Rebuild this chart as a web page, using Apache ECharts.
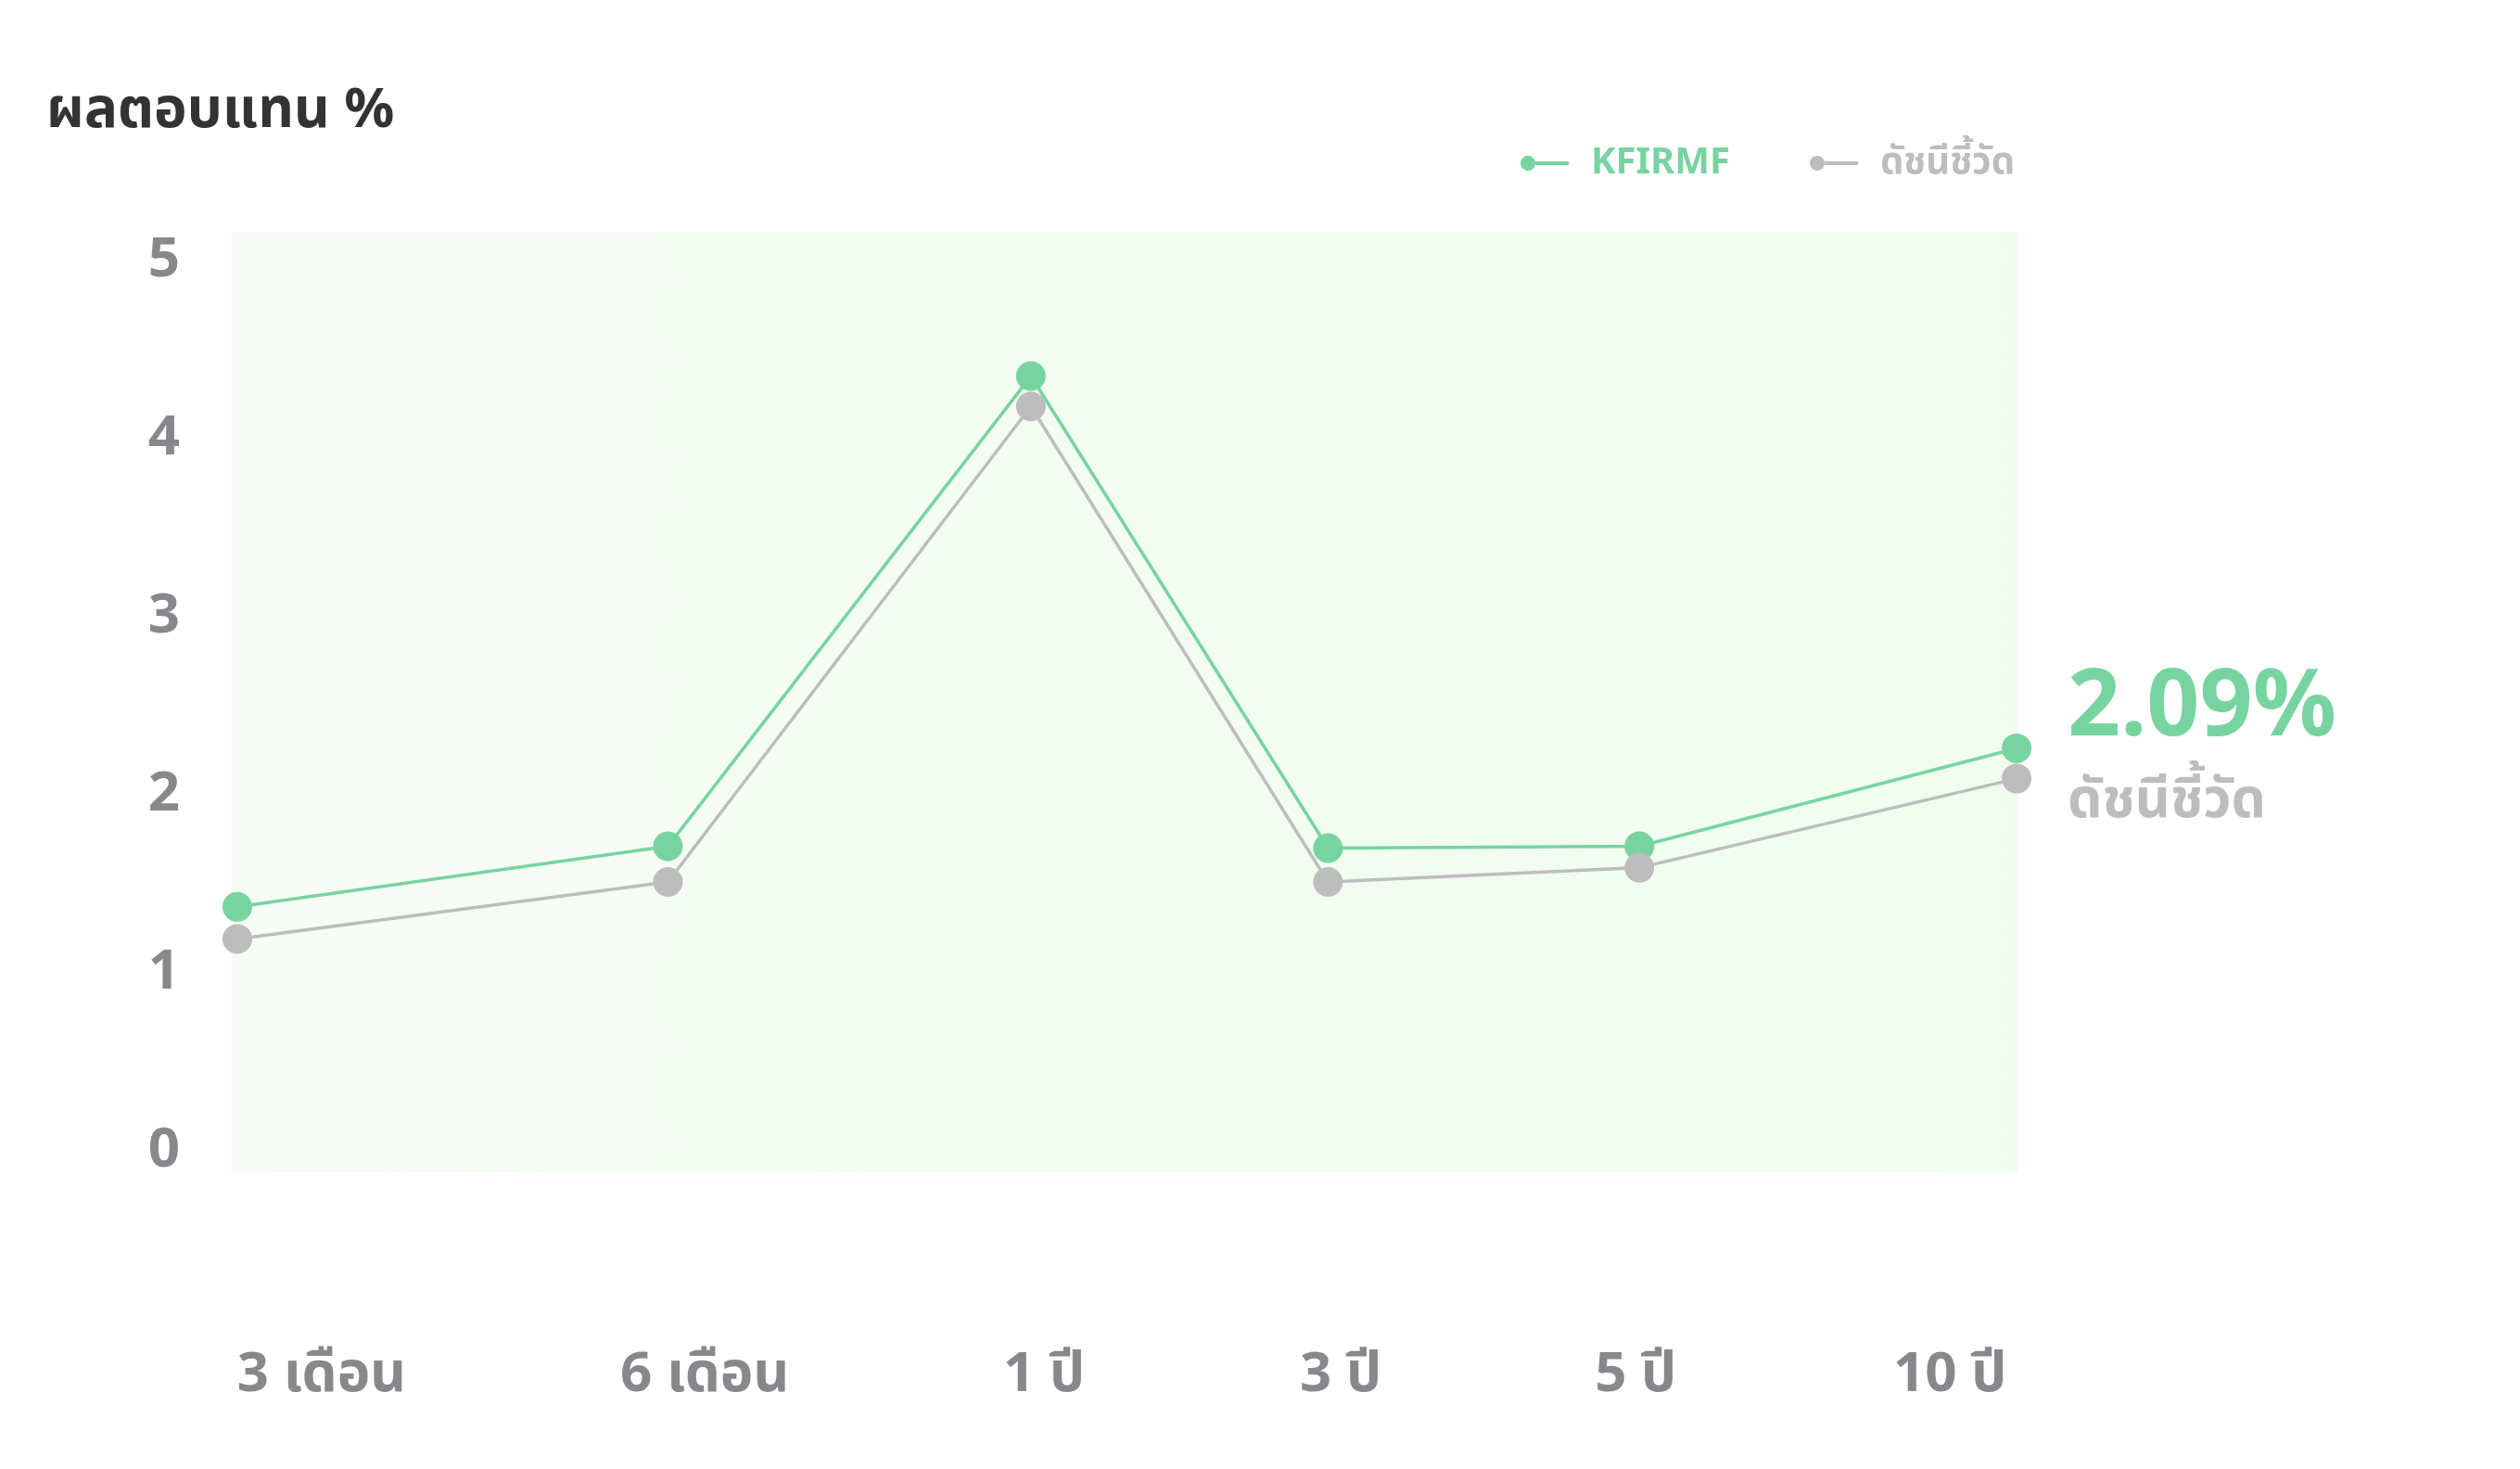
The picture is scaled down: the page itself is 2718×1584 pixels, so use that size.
<!DOCTYPE html>
<html>
<head>
<meta charset="utf-8">
<script src="https://cdn.jsdelivr.net/npm/echarts@6/dist/echarts.min.js"></script>
<style>
html,body{margin:0;padding:0;background:#ffffff;}
#chart{width:2718px;height:1584px;}
</style>
</head>
<body>
<div id="chart"></div>
<script>
// ---- data ----
const periods = ['3 เดือน', '6 เดือน', '1 ปี', '3 ปี', '5 ปี', '10 ปี'];
const periodPos = [0, 24.2, 44.6, 61.3, 78.8, 100];          // where each period's point sits on the axis
const periodLabelPos = [4.74, 26.27, 45.34, 62.01, 78.59, 96.25]; // where each period's label sits on the axis
const fundReturns = [1.37, 1.71, 4.35, 1.70, 1.71, 2.26];
const benchmarkReturns = [1.19, 1.51, 4.18, 1.51, 1.59, 2.09];
const yTicks = [0, 1, 2, 3, 4, 5];
const seriesNames = ['KFIRMF', 'ดัชนีชี้วัด'];
const titleText = 'ผลตอบแทน %';
const headlineValue = '2.09%';
const headlineCaption = 'ดัชนีชี้วัด';

// ---- style ----
const GREEN = '#77d4a1';
const GREY = '#bdbdbd';
const LABEL = '#87888c';
const FONT = '"Noto Sans", "Noto Sans Thai", sans-serif';

const fundData = periodPos.map((x, i) => [x, fundReturns[i]]);
const benchData = periodPos.map((x, i) => [x, benchmarkReturns[i]]);

const legendIcon = 'path://M0,8a8,8 0 1,0 16,0a8,8 0 1,0 -16,0Z M16,6H52V10H16Z M71,8L71,8';

const chart = echarts.init(document.getElementById('chart'), null, {renderer: 'canvas'});
chart.setOption({
  animation: false,
  backgroundColor: '#ffffff',
  textStyle: {fontFamily: FONT},
  title: {
    text: titleText,
    left: 50,
    top: 90,
    padding: 0,
    textStyle: {fontFamily: FONT, fontSize: 60, fontWeight: 'bold', color: '#333333'}
  },
  legend: {
    left: 1640,
    top: 156,
    padding: 0,
    itemGap: 86,
    itemWidth: 71,
    itemHeight: 16,
    selectedMode: false,
    data: [
      {name: seriesNames[0], icon: legendIcon, itemStyle: {color: GREEN}, textStyle: {color: GREEN}},
      {name: seriesNames[1], icon: legendIcon, itemStyle: {color: GREY}, textStyle: {color: GREY}}
    ],
    textStyle: {fontFamily: FONT, fontSize: 40, fontWeight: 'bold'}
  },
  grid: {
    left: 250,
    right: 542,
    top: 250,
    bottom: 320,
    show: true,
    borderWidth: 0,
    outerBoundsMode: 'none',
    backgroundColor: new echarts.graphic.LinearGradient(0, 0, 1, 0, [
      {offset: 0, color: '#f7fcf6'},
      {offset: 1, color: '#effdee'}
    ])
  },
  xAxis: {
    type: 'value',
    min: -0.31,
    max: 100.05,
    axisLine: {show: false},
    axisTick: {show: false},
    splitLine: {show: false},
    axisLabel: {
      customValues: periodLabelPos,
      margin: 189,
      fontFamily: FONT,
      fontSize: 60,
      fontWeight: 'bold',
      color: LABEL,
      formatter: function (v) {
        let best = 0;
        periodLabelPos.forEach((p, i) => { if (Math.abs(p - v) < Math.abs(periodLabelPos[best] - v)) best = i; });
        return periods[best];
      }
    }
  },
  yAxis: {
    type: 'value',
    min: -0.12,
    max: 5.16,
    axisLine: {show: false},
    axisTick: {show: false},
    splitLine: {show: false},
    axisLabel: {
      customValues: yTicks,
      margin: 56,
      padding: [10, 0, 0, 0],
      fontFamily: FONT,
      fontSize: 60,
      fontWeight: 'bold',
      color: LABEL
    }
  },
  series: [
    {
      name: seriesNames[0],
      type: 'line',
      data: fundData,
      clip: false,
      symbol: 'circle',
      symbolSize: 32,
      itemStyle: {color: GREEN},
      lineStyle: {color: GREEN, width: 3.5},
      endLabel: {
        show: true,
        distance: 55,
        formatter: function () { return '{v|' + headlineValue + '}\n{n|' + headlineCaption + '}'; },
        rich: {
          v: {fontFamily: FONT, fontSize: 100, fontWeight: 'bold', color: GREEN, lineHeight: 115},
          n: {fontFamily: FONT, fontSize: 59, fontWeight: 'bold', color: GREY, lineHeight: 84}
        }
      }
    },
    {
      name: seriesNames[1],
      type: 'line',
      data: benchData,
      clip: false,
      symbol: 'circle',
      symbolSize: 32,
      itemStyle: {color: GREY},
      lineStyle: {color: GREY, width: 3.5}
    }
  ]
});
</script>
</body>
</html>
